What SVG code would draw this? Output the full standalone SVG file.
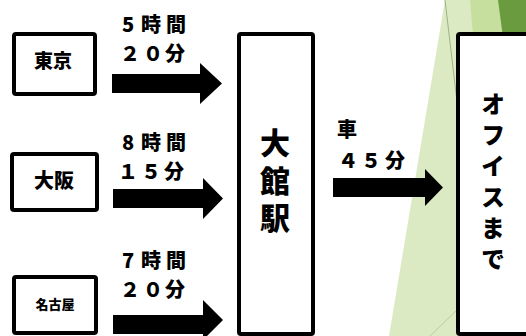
<svg xmlns="http://www.w3.org/2000/svg" width="526" height="336" viewBox="0 0 526 336">
  <style>
    .box { fill: #ffffff; stroke: #000000; stroke-width: 4; }
    .t { font-family: "Noto Sans CJK JP", "Noto Sans CJK SC", sans-serif; font-weight: 900; fill: #000000; }
    .lbl { font-size: 20px; }
    .vert { writing-mode: vertical-rl; text-orientation: upright; }
    .arrow { fill: #000000; }
  </style>
  <g id="background">
    <polygon points="445,0 526,0 526,336 389,336" fill="#DCEAC4"/>
    <polygon points="470,0 526,0 526,60 475,60" fill="#C6DF9E"/>
    <polygon points="498,0 526,0 526,60 506,60" fill="#6A9B3E"/>
    <line x1="445" y1="0" x2="458" y2="110" stroke="#9DB08A" stroke-width="1"/>
    <line x1="430" y1="336" x2="458" y2="309" stroke="#B8CCA2" stroke-width="1"/>
  </g>
  <g id="tokyo">
    <rect class="box" x="14" y="34" width="81" height="60" rx="2"/>
    <text class="t" x="53" y="68" font-size="19" text-anchor="middle">東京</text>
  </g>
  <g id="osaka">
    <rect class="box" x="12" y="154" width="85" height="56" rx="2"/>
    <text class="t" x="54" y="188" font-size="20" text-anchor="middle">大阪</text>
  </g>
  <g id="nagoya">
    <rect class="box" x="14" y="277" width="82" height="56" rx="2"/>
    <text class="t" x="55" y="309" font-size="13" text-anchor="middle">名古屋</text>
  </g>
  <g id="odate">
    <rect class="box" x="239" y="34" width="74" height="300" rx="2"/>
    <text class="t vert" x="275" y="128" font-size="30" letter-spacing="7.5">大館駅</text>
  </g>
  <g id="office">
    <rect class="box" x="458" y="34" width="100" height="300" rx="2"/>
    <text class="t vert" x="493" y="92" font-size="24" letter-spacing="7">オフイスまで</text>
  </g>
  <g id="connectors">
    <polygon class="arrow" points="112,74 200,74 200,63 222,83.5 200,104 200,93 112,93"/>
    <polygon class="arrow" points="113,189 203,189 203,178 223,198.5 203,219 203,208 113,208"/>
    <polygon class="arrow" points="113,315 203,315 203,300 223,320 203,340 203,334 113,334"/>
    <polygon class="arrow" points="333,178 425,178 425,169 443,187.5 425,206 425,197 333,197"/>
    <text class="t lbl" x="122 141 166" y="32">5時間</text>
    <text class="t lbl" x="120 143 165" y="61">２０分</text>
    <text class="t lbl" x="122 141 166" y="150">8時間</text>
    <text class="t lbl" x="118 141 164" y="179">１５分</text>
    <text class="t lbl" x="122 141 166" y="268">7時間</text>
    <text class="t lbl" x="120 143 165" y="297">２０分</text>
    <text class="t lbl" x="337" y="137">車</text>
    <text class="t lbl" x="338 361 385" y="168">４５分</text>
  </g>
</svg>
